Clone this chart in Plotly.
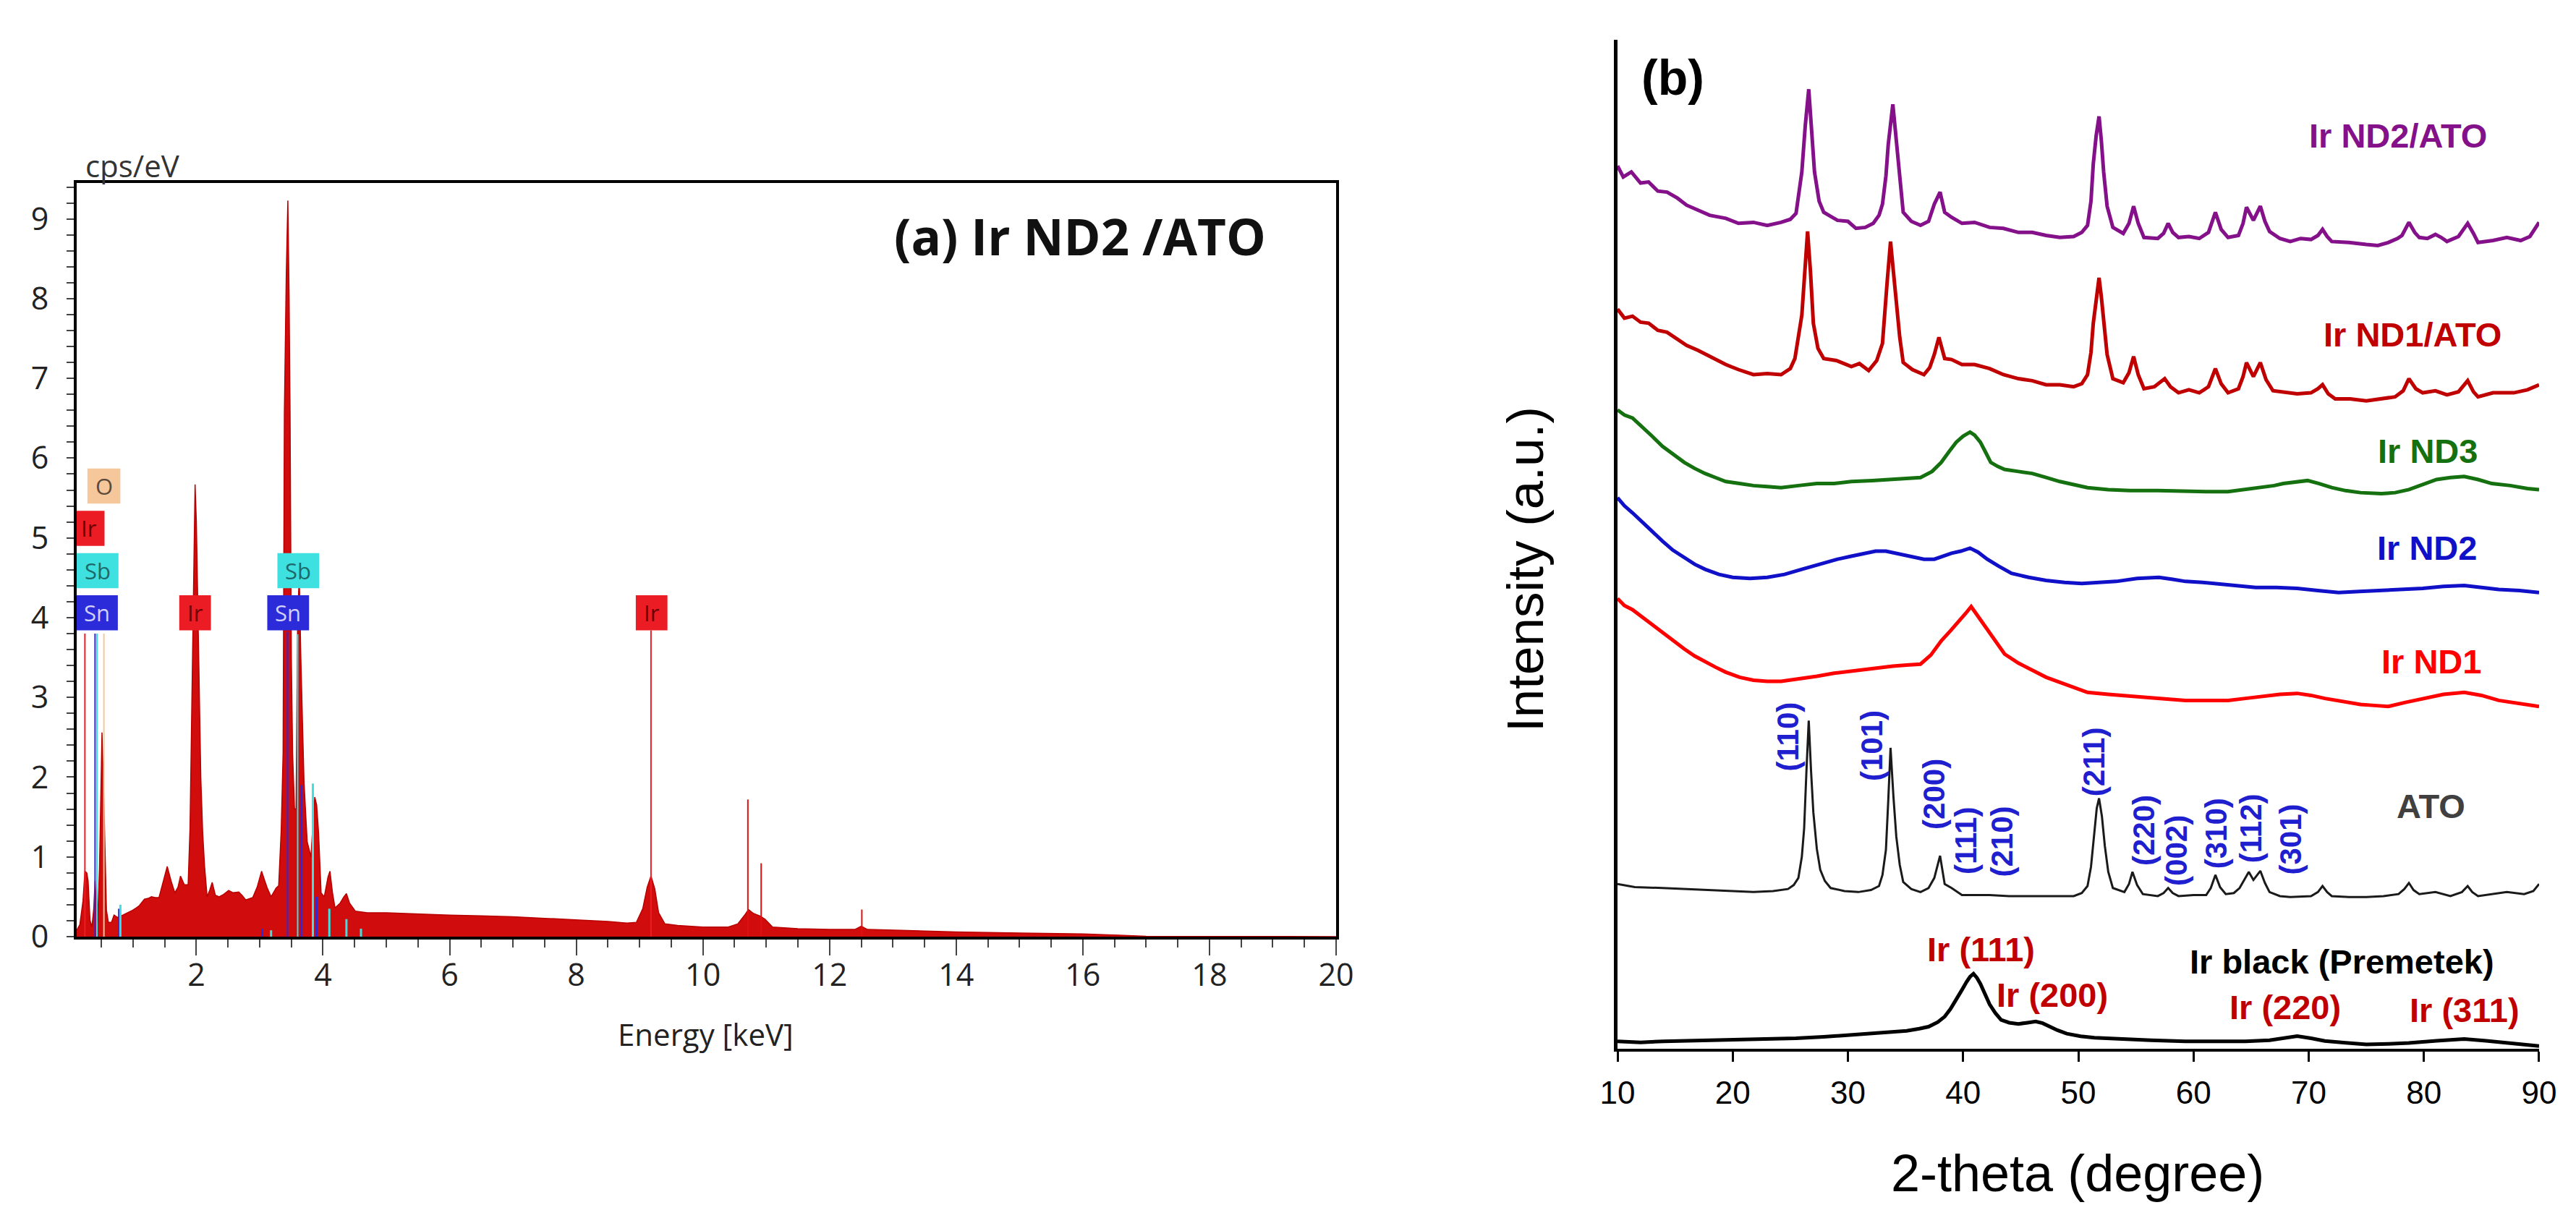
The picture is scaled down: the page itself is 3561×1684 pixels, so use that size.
import plotly.graph_objects as go

# ---------------- (a) EDS spectrum of Ir ND2/ATO ----------------
eds_kev = [0.11, 0.16, 0.21, 0.24, 0.27, 0.29, 0.32, 0.35, 0.38, 0.40, 0.42, 0.44,
           0.47, 0.49, 0.51, 0.53, 0.55, 0.58, 0.61, 0.66, 0.70, 0.76, 0.84, 0.92,
           0.99, 1.05, 1.10, 1.18, 1.24, 1.29, 1.35, 1.41, 1.47, 1.54, 1.60, 1.66,
           1.71, 1.75, 1.81, 1.87, 1.90, 1.93, 1.96, 1.98, 2.00, 2.03, 2.07, 2.10,
           2.13, 2.17, 2.21, 2.25, 2.30, 2.36, 2.43, 2.51, 2.58, 2.67, 2.72, 2.78,
           2.84, 2.89, 2.96, 3.03, 3.08, 3.12, 3.18, 3.22, 3.26, 3.30, 3.34, 3.37,
           3.39, 3.42, 3.445, 3.465, 3.48, 3.50, 3.52, 3.55, 3.575, 3.60, 3.625, 3.65,
           3.68, 3.70, 3.75, 3.81, 3.84, 3.87, 3.90, 3.93, 3.97, 4.02, 4.08, 4.11,
           4.15, 4.19, 4.27, 4.33, 4.37, 4.42, 4.51, 4.70, 5.00, 5.30, 5.60, 6.00,
           6.50, 7.00, 7.50, 8.00, 8.50, 8.80, 8.95, 9.05, 9.12, 9.18, 9.24, 9.30,
           9.40, 9.60, 10.0, 10.4, 10.55, 10.65, 10.72, 10.80, 10.90, 10.98, 11.1, 11.5,
           12.0, 12.4, 12.5, 12.6, 13.0, 14.0, 15.0, 16.0, 16.5, 17.0, 20.0]
eds_cps = [0.08, 0.15, 0.45, 0.82, 0.80, 0.70, 0.21, 0.12, 0.35, 0.70, 0.40, 0.18,
           0.85, 1.90, 2.56, 2.00, 1.20, 0.33, 0.18, 0.18, 0.27, 0.24, 0.27, 0.30,
           0.33, 0.36, 0.39, 0.47, 0.48, 0.50, 0.49, 0.49, 0.67, 0.88, 0.70, 0.55,
           0.62, 0.76, 0.65, 0.65, 1.36, 3.00, 4.60, 5.67, 5.20, 3.80, 2.00, 1.30,
           0.88, 0.50, 0.58, 0.68, 0.52, 0.50, 0.53, 0.58, 0.55, 0.56, 0.52, 0.46,
           0.48, 0.49, 0.62, 0.82, 0.70, 0.61, 0.50, 0.55, 0.61, 0.64, 1.33, 2.30,
           6.55, 8.30, 9.23, 8.00, 6.55, 3.50, 2.30, 1.60, 1.60, 4.00, 4.53, 3.50,
           2.60, 1.94, 1.19, 1.00, 1.40, 1.75, 1.65, 1.30, 0.55, 0.50, 0.75, 0.82,
           0.55, 0.36, 0.42, 0.50, 0.54, 0.42, 0.32, 0.30, 0.30, 0.29, 0.28, 0.27,
           0.26, 0.25, 0.23, 0.21, 0.19, 0.17, 0.18, 0.35, 0.62, 0.76, 0.60, 0.30,
           0.16, 0.14, 0.12, 0.12, 0.16, 0.26, 0.34, 0.29, 0.26, 0.22, 0.12, 0.10,
           0.09, 0.09, 0.13, 0.09, 0.08, 0.06, 0.045, 0.035, 0.02, 0.005, 0.0]

# element line markers drawn from the label boxes down to the baseline
line_kev = [0.24, 0.40, 0.43, 0.54, 3.44, 3.60, 9.18]
line_top = [3.80, 3.80, 3.80, 3.80, 3.82, 3.79, 3.84]
line_elem = ['Ir', 'Sn', 'Sb', 'O', 'Sn', 'Sb', 'Ir']

# short secondary lines of Sn / Sb
sub_kev = [0.78, 0.80, 3.04, 3.18, 3.66, 3.84, 3.90, 4.10, 4.37, 4.60]
sub_top = [0.35, 0.40, 0.10, 0.08, 1.90, 1.92, 0.50, 0.35, 0.22, 0.10]
sub_elem = ['Sn', 'Sb', 'Sn', 'Sb', 'Sn', 'Sb', 'Sn', 'Sb', 'Sb', 'Sb']

# Ir L-beta / L-gamma marker spikes
spike_kev = [10.71, 10.92, 12.51]
spike_top = [1.72, 0.92, 0.34]

# element label boxes
box_elem = ['O', 'Ir', 'Sb', 'Sn', 'Ir', 'Sn', 'Sb', 'Ir']
box_kev = [0.54, 0.30, 0.44, 0.43, 1.98, 3.45, 3.61, 9.19]
box_row = [3, 2, 1, 0, 0, 0, 1, 0]

# ---------------- (b) XRD patterns ----------------
tt_nd2ato = [10.0, 10.5, 11.2, 12.0, 12.7, 13.5, 14.3, 15.2, 16.0, 17.0, 18.0, 19.4, 20.5, 21.8, 23.0,
             24.2, 25.0, 25.5, 26.0, 26.3, 26.6, 26.85, 27.1, 27.5, 27.9, 28.5, 29.1, 30.0, 30.7, 31.5,
             32.2, 32.7, 33.0, 33.3, 33.5, 33.9, 34.1, 34.3, 34.6, 34.8, 35.5, 36.3, 37.0, 37.5, 38.0,
             38.4, 39.0, 39.9, 41.0, 42.3, 43.5, 44.8, 46.0, 47.2, 48.4, 49.6, 50.3, 50.8, 51.1, 51.3,
             51.55, 51.8, 52.0, 52.2, 52.5, 53.0, 53.9, 54.4, 54.8, 55.2, 55.7, 56.9, 57.4, 57.8, 58.2,
             58.7, 59.6, 60.5, 61.3, 61.9, 62.4, 63.0, 63.9, 64.3, 64.6, 65.2, 65.8, 66.2, 66.6, 67.5,
             68.4, 69.3, 70.2, 70.8, 71.2, 71.6, 72.0, 73.5, 75.0, 76.0, 76.9, 77.7, 78.1, 78.7, 79.2,
             79.6, 80.3, 81.0, 81.5, 82.0, 83.0, 83.8, 84.3, 84.7, 86.0, 87.2, 88.4, 89.2, 90.0]
i_nd2ato = [87.5, 86.4, 86.9, 85.8, 85.9, 85.0, 84.9, 84.3, 83.6, 83.1, 82.6, 82.3, 81.8, 81.9, 81.6,
            81.9, 82.2, 82.8, 86.9, 91.5, 95.1, 91.0, 86.9, 84.0, 82.9, 82.5, 82.1, 82.0, 81.3, 81.4,
            81.8, 82.6, 83.7, 86.5, 89.6, 93.6, 91.0, 88.4, 84.5, 82.9, 82.0, 81.6, 82.0, 83.7, 84.9,
            82.9, 82.4, 81.8, 81.9, 81.4, 81.3, 80.9, 80.9, 80.6, 80.4, 80.5, 80.9, 81.6, 84.0, 87.7,
            90.5, 92.4, 90.0, 86.9, 83.5, 81.4, 80.8, 81.8, 83.5, 81.8, 80.4, 80.3, 80.8, 81.8, 80.9,
            80.4, 80.5, 80.3, 80.9, 82.9, 81.2, 80.4, 80.6, 81.8, 83.4, 82.1, 83.5, 82.0, 81.0, 80.3,
            80.0, 80.3, 80.2, 80.6, 81.2, 80.5, 80.0, 79.9, 79.7, 79.6, 79.9, 80.3, 80.6, 81.9, 80.9,
            80.4, 80.3, 80.7, 80.4, 80.0, 80.5, 81.8, 80.8, 79.9, 80.1, 80.4, 80.1, 80.5, 81.9]

tt_nd1ato = [10.0, 10.6, 11.3, 12.0, 12.7, 13.5, 14.3, 15.2, 16.0, 17.0, 18.2, 19.4, 20.5, 21.8, 23.0,
             24.2, 25.0, 25.4, 26.0, 26.25, 26.5, 26.75, 27.0, 27.4, 27.9, 29.0, 30.3, 31.0, 31.8, 32.5,
             33.0, 33.4, 33.7, 33.95, 34.2, 34.5, 34.8, 35.6, 36.6, 37.1, 37.5, 37.9, 38.4, 39.0, 39.9,
             41.0, 42.3, 43.5, 44.8, 46.0, 47.2, 48.4, 49.6, 50.3, 50.8, 51.1, 51.3, 51.55, 51.8, 52.0,
             52.2, 52.5, 53.0, 53.9, 54.4, 54.8, 55.2, 55.7, 56.6, 57.5, 58.0, 58.7, 59.6, 60.5, 61.3,
             61.9, 62.4, 63.0, 63.9, 64.3, 64.6, 65.2, 65.8, 66.3, 66.9, 68.0, 69.0, 70.2, 70.8, 71.2,
             71.7, 72.3, 73.6, 75.0, 76.2, 77.5, 78.2, 78.7, 79.3, 79.9, 81.0, 82.0, 83.0, 83.8, 84.3,
             84.7, 86.0, 87.8, 89.0, 90.0]
i_nd1ato = [73.3, 72.4, 72.6, 72.0, 71.9, 71.2, 71.0, 70.3, 69.7, 69.2, 68.5, 67.8, 67.3, 66.8, 66.9,
            66.8, 67.4, 68.4, 72.7, 77.5, 81.0, 77.0, 71.9, 69.4, 68.4, 68.2, 67.6, 67.9, 67.2, 68.2,
            69.9, 75.9, 80.0, 77.0, 73.9, 70.5, 68.0, 67.3, 66.8, 67.5, 68.8, 70.5, 68.4, 68.3, 67.8,
            67.8, 67.4, 66.8, 66.4, 66.2, 65.8, 65.8, 65.6, 65.9, 66.8, 69.0, 71.9, 74.5, 76.4, 74.5,
            71.9, 68.8, 66.4, 66.0, 67.0, 68.6, 66.8, 65.4, 65.6, 66.4, 65.6, 65.0, 65.3, 65.0, 65.6,
            67.4, 65.9, 65.0, 65.4, 66.6, 68.0, 66.6, 68.0, 66.3, 65.2, 65.0, 64.9, 65.0, 65.4, 65.8,
            64.9, 64.4, 64.4, 64.2, 64.4, 64.6, 65.2, 66.4, 65.4, 65.0, 65.2, 64.8, 65.1, 66.2, 65.1,
            64.6, 65.0, 65.0, 65.3, 65.8]

tt_nd3 = [10.0, 10.6, 11.3, 12.1, 13.0, 13.9, 14.8, 15.8, 16.7, 17.6, 18.5, 19.4, 20.6, 21.8, 23.0,
          24.2, 25.7, 27.3, 28.8, 30.3, 32.1, 33.9, 35.1, 36.3, 37.3, 38.1, 38.8, 39.4, 40.0, 40.6,
          41.0, 41.5, 42.0, 42.4, 43.0, 43.6, 44.8, 46.0, 47.2, 48.4, 49.6, 50.8, 52.6, 54.5, 56.9,
          59.3, 61.2, 63.0, 64.5, 66.0, 67.0, 67.8, 68.9, 69.9, 70.9, 72.0, 73.2, 74.5, 76.3, 77.5,
          78.7, 79.9, 81.1, 82.3, 83.5, 84.7, 85.9, 87.5, 89.0, 90.0]
i_nd3 = [63.3, 62.8, 62.5, 61.7, 60.7, 59.7, 58.9, 58.1, 57.5, 57.0, 56.6, 56.2, 56.0, 55.8, 55.7,
         55.6, 55.8, 56.0, 56.0, 56.2, 56.3, 56.4, 56.5, 56.6, 57.2, 58.1, 59.2, 60.1, 60.7, 61.1,
         60.8, 60.1, 59.0, 58.1, 57.7, 57.4, 57.2, 57.0, 56.6, 56.2, 55.9, 55.6, 55.4, 55.3, 55.3,
         55.2, 55.2, 55.2, 55.4, 55.6, 55.8, 56.0, 56.2, 56.3, 56.0, 55.6, 55.3, 55.1, 55.0, 55.1,
         55.4, 55.9, 56.4, 56.6, 56.7, 56.4, 56.0, 55.8, 55.5, 55.4]

tt_nd2 = [10.0, 10.6, 11.3, 12.1, 13.0, 13.9, 14.8, 15.8, 16.7, 17.6, 18.8, 20.0, 21.5, 23.0, 24.5,
          26.0, 27.5, 29.1, 30.3, 31.5, 32.4, 33.3, 34.5, 35.7, 36.6, 37.5, 38.3, 39.0, 39.8, 40.6,
          41.3, 42.1, 43.1, 44.2, 45.7, 47.2, 48.8, 50.3, 51.8, 53.3, 55.1, 57.0, 58.2, 59.3, 60.8,
          62.4, 63.9, 65.4, 67.2, 69.0, 70.8, 72.6, 74.4, 76.3, 78.1, 79.9, 81.7, 83.5, 85.0, 86.5,
          88.3, 90.0]
i_nd2 = [54.6, 53.8, 53.1, 52.2, 51.2, 50.3, 49.4, 48.7, 48.0, 47.5, 47.0, 46.7, 46.6, 46.7, 47.0,
         47.5, 48.0, 48.5, 48.8, 49.1, 49.3, 49.3, 49.0, 48.7, 48.5, 48.5, 48.8, 49.1, 49.3, 49.6,
         49.2, 48.5, 47.8, 47.1, 46.7, 46.4, 46.2, 46.1, 46.2, 46.3, 46.6, 46.7, 46.5, 46.3, 46.2,
         46.0, 45.8, 45.7, 45.7, 45.6, 45.4, 45.2, 45.3, 45.4, 45.5, 45.6, 45.8, 45.9, 45.7, 45.5,
         45.4, 45.2]

tt_nd1 = [10.0, 10.6, 11.3, 12.1, 13.0, 13.9, 14.8, 15.8, 16.7, 17.6, 18.5, 19.4, 20.6, 21.8, 23.0,
          24.2, 25.7, 27.3, 28.8, 30.3, 32.1, 33.9, 35.1, 36.3, 37.2, 38.1, 38.9, 39.7, 40.2, 40.7,
          41.2, 41.8, 42.7, 43.6, 44.8, 46.0, 47.2, 48.4, 49.6, 50.8, 52.6, 54.5, 56.9, 59.3, 61.2,
          63.0, 64.5, 66.0, 67.5, 69.0, 70.2, 71.4, 73.0, 74.5, 75.7, 76.9, 78.4, 79.9, 81.7, 83.5,
          85.0, 86.5, 88.3, 90.0]
i_nd1 = [44.6, 43.9, 43.5, 42.8, 42.0, 41.2, 40.4, 39.6, 38.9, 38.3, 37.8, 37.3, 36.8, 36.5, 36.4,
         36.4, 36.6, 36.9, 37.2, 37.4, 37.7, 37.9, 38.0, 38.1, 39.0, 40.4, 41.4, 42.4, 43.1, 43.8,
         43.0, 42.0, 40.5, 39.1, 38.2, 37.5, 36.8, 36.3, 35.8, 35.3, 35.1, 34.9, 34.7, 34.5, 34.5,
         34.5, 34.7, 34.9, 35.1, 35.2, 35.0, 34.7, 34.4, 34.1, 34.0, 33.9, 34.3, 34.7, 35.1, 35.3,
         35.0, 34.5, 34.2, 33.9]

tt_ato = [10.0, 11.5, 13.9, 16.0, 18.2, 20.0, 21.8, 23.5, 24.8, 25.3, 25.7, 26.0, 26.2, 26.4, 26.6,
          26.8, 27.0, 27.3, 27.6, 28.0, 28.5, 29.7, 30.9, 32.0, 32.7, 33.0, 33.3, 33.5, 33.7, 33.95,
          34.2, 34.5, 34.8, 35.5, 36.3, 37.0, 37.5, 38.0, 38.4, 39.0, 39.9, 41.0, 42.3, 44.0, 46.0,
          48.0, 49.6, 50.3, 50.8, 51.1, 51.4, 51.6, 51.8, 52.05, 52.3, 52.6, 53.0, 54.0, 54.4, 54.7,
          55.1, 55.6, 56.9, 57.4, 57.8, 58.2, 58.7, 60.0, 61.1, 61.5, 61.9, 62.3, 62.8, 63.5, 64.0,
          64.4, 64.8, 65.2, 65.8, 66.2, 66.6, 67.5, 68.4, 70.2, 70.8, 71.2, 71.6, 72.0, 73.5, 75.0,
          76.5, 77.8, 78.3, 78.7, 79.1, 79.6, 81.0, 82.3, 83.3, 83.8, 84.2, 84.7, 86.0, 87.2, 88.7,
          89.5, 90.0]
i_ato = [16.3, 16.0, 15.9, 15.8, 15.7, 15.6, 15.5, 15.6, 15.8, 16.2, 16.9, 19.0, 21.8, 27.5, 32.5,
         27.5, 23.4, 19.8, 17.7, 16.6, 15.9, 15.6, 15.5, 15.7, 16.1, 17.2, 19.7, 24.5, 29.8, 25.0,
         21.0, 18.2, 16.5, 15.8, 15.5, 15.9, 16.9, 19.1, 16.3, 15.9, 15.2, 15.2, 15.2, 15.1, 15.1,
         15.1, 15.1, 15.4, 16.1, 18.0, 21.8, 23.8, 24.8, 23.0, 20.1, 17.5, 15.9, 15.5, 16.3, 17.5,
         16.2, 15.3, 15.1, 15.4, 15.9, 15.4, 15.1, 15.2, 15.2, 15.9, 17.2, 16.0, 15.3, 15.4, 15.9,
         16.7, 17.5, 16.7, 17.6, 16.4, 15.5, 15.1, 15.0, 15.1, 15.5, 16.1, 15.5, 15.1, 15.0, 15.0,
         15.1, 15.3, 15.8, 16.4, 15.7, 15.3, 15.5, 15.1, 15.5, 16.1, 15.5, 15.1, 15.3, 15.5, 15.3,
         15.6, 16.3]

tt_irblack = [10.0, 12.0, 14.0, 16.0, 18.2, 20.5, 23.0, 25.5, 27.9, 30.0, 32.1, 33.6, 35.1, 36.2, 37.0,
              37.8, 38.4, 38.9, 39.4, 39.9, 40.3, 40.6, 40.9, 41.2, 41.5, 41.9, 42.3, 42.8, 43.3, 44.0,
              44.8, 45.6, 46.3, 46.9, 47.5, 48.2, 49.0, 50.2, 51.4, 53.8, 56.3, 59.3, 62.4, 64.5, 66.6,
              67.8, 69.0, 70.2, 71.4, 73.2, 75.0, 76.9, 78.7, 81.1, 83.5, 85.4, 87.2, 88.6, 90.0]
i_irblack = [0.70, 0.60, 0.70, 0.75, 0.80, 0.85, 0.93, 1.00, 1.14, 1.30, 1.46, 1.60, 1.74, 1.95, 2.15,
             2.60, 3.15, 3.90, 4.77, 5.80, 6.60, 7.10, 7.40, 7.00, 6.40, 5.40, 4.37, 3.50, 2.83, 2.55,
             2.43, 2.55, 2.67, 2.50, 2.15, 1.80, 1.46, 1.20, 1.06, 0.90, 0.81, 0.70, 0.65, 0.70, 0.81,
             1.00, 1.22, 1.00, 0.73, 0.55, 0.40, 0.45, 0.53, 0.75, 0.93, 0.75, 0.53, 0.40, 0.24]

xrd_series = [
    ('Ir ND2/ATO', tt_nd2ato, i_nd2ato, '#84108a', 5),
    ('Ir ND1/ATO', tt_nd1ato, i_nd1ato, '#c00000', 5),
    ('Ir ND3', tt_nd3, i_nd3, '#15700f', 5),
    ('Ir ND2', tt_nd2, i_nd2, '#1010c8', 5),
    ('Ir ND1', tt_nd1, i_nd1, '#ff0000', 5),
    ('ATO', tt_ato, i_ato, '#1a1a1a', 3),
    ('Ir black (Premetek)', tt_irblack, i_irblack, '#000000', 5),
]

elem_color = {'Ir': '#ec1c24', 'Sn': '#2b2bd9', 'Sb': '#3ee0e0', 'O': '#f6c79b'}
elem_text = {'Ir': '#6a0000', 'Sn': '#d0d0ff', 'Sb': '#1e6a6a', 'O': '#5a4a3a'}
box_w = {'Ir': 0.5, 'Sn': 0.66, 'Sb': 0.66, 'O': 0.52}

fig = go.Figure()

# EDS spectrum as filled area
fig.add_trace(go.Scatter(x=eds_kev, y=eds_cps, mode='lines', fill='tozeroy',
                         line=dict(color='#b80000', width=1.5), fillcolor='#d00c0c',
                         xaxis='x', yaxis='y'))


def seg_trace(xs, tops, color, width):
    sx, sy = [], []
    for x, t in zip(xs, tops):
        sx += [x, x, None]
        sy += [0, t, None]
    return go.Scatter(x=sx, y=sy, mode='lines', line=dict(color=color, width=width),
                      xaxis='x', yaxis='y', hoverinfo='skip')


for el in ['Ir', 'Sn', 'Sb', 'O']:
    xs = [k for k, e in zip(line_kev, line_elem) if e == el]
    ts = [t for t, e in zip(line_top, line_elem) if e == el]
    if xs:
        fig.add_trace(seg_trace(xs, ts, elem_color[el], 2))
    xs = [k for k, e in zip(sub_kev, sub_elem) if e == el]
    ts = [t for t, e in zip(sub_top, sub_elem) if e == el]
    if xs:
        fig.add_trace(seg_trace(xs, ts, elem_color[el], 3))

fig.add_trace(seg_trace(spike_kev, spike_top, '#e01010', 2))

# element boxes
for el, k, r in zip(box_elem, box_kev, box_row):
    y0 = 3.84 + 0.53 * r
    fig.add_shape(type='rect', xref='x', yref='y', x0=k - box_w[el] / 2, x1=k + box_w[el] / 2,
                  y0=y0, y1=y0 + 0.44, fillcolor=elem_color[el], line=dict(width=0), layer='above')
    fig.add_annotation(x=k, y=y0 + 0.22, xref='x', yref='y', text=el, showarrow=False,
                       font=dict(family='Open Sans', size=31, color=elem_text[el]))

# XRD patterns
for name, tt, inten, col, w in xrd_series:
    fig.add_trace(go.Scatter(x=tt, y=inten, mode='lines', line=dict(color=col, width=w),
                             xaxis='x2', yaxis='y2', name=name))

left_font = dict(family='Open Sans', size=43, color='#222222')
right_font = dict(family='Liberation Sans, Arial', size=44, color='#000000')

fig.update_layout(
    width=3561, height=1684,
    margin=dict(l=0, r=0, t=0, b=0, pad=0),
    paper_bgcolor='white', plot_bgcolor='white',
    showlegend=False,
    xaxis=dict(domain=[0.02752, 0.51643], anchor='y', range=[0.11, 20], automargin=False,
               tick0=0, dtick=2, ticks='outside', ticklen=22, tickwidth=2, tickcolor='#444444',
               minor=dict(tick0=0, dtick=0.5, ticks='outside', ticklen=11, tickwidth=2,
                          tickcolor='#444444'),
               showline=True, linecolor='black', linewidth=4, mirror=True,
               showgrid=False, zeroline=False, tickfont=left_font, ticklabelstandoff=-10),
    yaxis=dict(domain=[0.23575, 0.85451], anchor='x', range=[0, 9.45], automargin=False,
               tick0=0, dtick=1, ticks='outside', ticklen=10, tickwidth=2, tickcolor='#444444',
               minor=dict(tick0=0, dtick=0.2, ticks='outside', ticklen=10, tickwidth=2,
                          tickcolor='#444444'),
               showline=True, linecolor='black', linewidth=4, mirror=True,
               showgrid=False, zeroline=False, tickfont=left_font, ticklabelstandoff=16),
    xaxis2=dict(domain=[0.62567, 0.98343], anchor='y2', range=[10, 90], automargin=False,
                tick0=10, dtick=10, ticks='outside', ticklen=14, tickwidth=3, tickcolor='black',
                showline=True, linecolor='black', linewidth=4,
                showgrid=False, zeroline=False, tickfont=right_font, ticklabelstandoff=6),
    yaxis2=dict(domain=[0.14400, 0.97209], anchor='x2', range=[0, 100], automargin=False,
                showline=True, linecolor='black', linewidth=5, ticks='',
                showticklabels=False, showgrid=False, zeroline=False),
)

# panel (a) texts
fig.add_annotation(x=0.0303, y=0.8688, xref='paper', yref='paper', xanchor='left', yanchor='middle',
                   text='cps/eV', showarrow=False,
                   font=dict(family='Open Sans', size=42, color='#333333'))
fig.add_annotation(x=13.0, y=8.79, xref='x', yref='y', xanchor='left', yanchor='middle',
                   text='<b>(a) Ir ND2 /ATO</b>', showarrow=False,
                   font=dict(family='Open Sans', size=69, color='#111111'))
fig.add_annotation(x=0.2718, y=0.1556, xref='paper', yref='paper', xanchor='center', yanchor='middle',
                   text='Energy [keV]', showarrow=False,
                   font=dict(family='Open Sans', size=42, color='#222222'))

# panel (b) texts
fig.add_annotation(x=0.5897, y=0.5374, xref='paper', yref='paper', xanchor='center', yanchor='middle',
                   textangle=-90, text='Intensity (a.u.)', showarrow=False,
                   font=dict(family='Liberation Sans, Arial', size=71, color='black'))
fig.add_annotation(x=0.8043, y=0.0413, xref='paper', yref='paper', xanchor='center', yanchor='middle',
                   text='2-theta (degree)', showarrow=False,
                   font=dict(family='Liberation Sans, Arial', size=72, color='black'))
fig.add_annotation(x=14.83, y=96.3, xref='x2', yref='y2', text='<b>(b)</b>', showarrow=False,
                   font=dict(family='Liberation Sans, Arial', size=68, color='black'))

series_labels = [
    ('Ir ND2/ATO', 77.73, 90.5, '#84108a'),
    ('Ir ND1/ATO', 78.99, 70.8, '#c00000'),
    ('Ir ND3', 80.31, 59.2, '#15700f'),
    ('Ir ND2', 80.25, 49.6, '#1010c8'),
    ('Ir ND1', 80.62, 38.4, '#ff0000'),
    ('ATO', 80.62, 24.0, '#404040'),
    ('Ir black (Premetek)', 72.9, 8.6, '#000000'),
    ('Ir (111)', 41.58, 9.8, '#c00000'),
    ('Ir (200)', 47.73, 5.3, '#c00000'),
    ('Ir (220)', 67.94, 4.1, '#c00000'),
    ('Ir (311)', 83.51, 3.8, '#c00000'),
]
for txt, x, y, col in series_labels:
    fig.add_annotation(x=x, y=y, xref='x2', yref='y2', text='<b>%s</b>' % txt, showarrow=False,
                       font=dict(family='Liberation Sans, Arial', size=47, color=col))

hkl_labels = [('(110)', 24.81, 30.9), ('(101)', 32.03, 30.0), ('(200)', 37.43, 25.2),
              ('(111)', 40.19, 20.6), ('(210)', 43.40, 20.5), ('(211)', 51.37, 28.4),
              ('(220)', 55.70, 21.6), ('(002)', 58.46, 19.6), ('(310)', 61.98, 21.3),
              ('(112)', 64.99, 21.8), ('(301)', 68.44, 20.7)]
for txt, x, y in hkl_labels:
    fig.add_annotation(x=x, y=y, xref='x2', yref='y2', text='<b>%s</b>' % txt, showarrow=False,
                       textangle=-90,
                       font=dict(family='Liberation Sans, Arial', size=42, color='#1f1fcf'))

fig.write_html("out.html")
